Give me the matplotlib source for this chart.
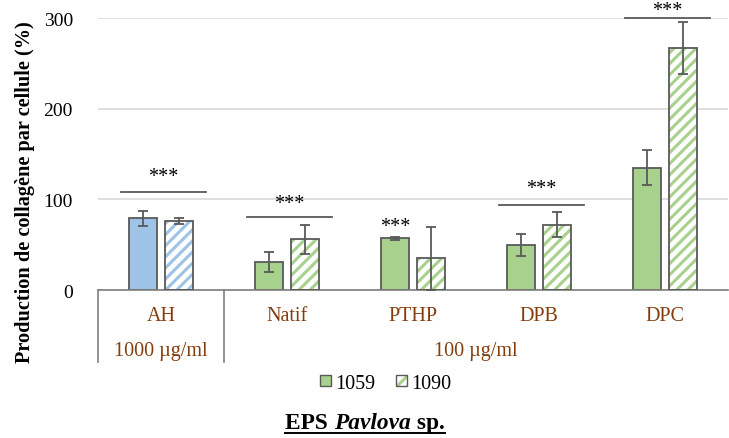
import matplotlib
matplotlib.use("Agg")
import matplotlib.pyplot as plt
import numpy as np
from matplotlib.patches import Patch
from matplotlib.legend_handler import HandlerTuple

plt.rcParams['font.family'] = ['Liberation Serif', 'DejaVu Serif']
plt.rcParams['hatch.linewidth'] = 2.2

categories = ["AH", "Natif", "PTHP", "DPB", "DPC"]
groups = ["1000 µg/ml", "100 µg/ml"]
group_span = [(0, 1), (1, 5)]
series_names = ["1059", "1090"]
vals_1059 = [79, 31, 57, 50, 135]
err_1059 = [8, 11, 1.5, 12, 19]
vals_1090 = [76, 56, 35, 72, 267]
err_1090 = [3, 16, 35, 14, 29]
sig_line_y = [108, 81, None, 94, 300]
sig_star_y = [125, 95, 70, 112, 308]

blue = "#9DC3E6"
green = "#A9D18E"
edge = "#595959"
brown = "#843C0C"
grid_c = "#D9D9D9"
line_c = "#7F7F7F"

fig = plt.figure(figsize=(7.29, 4.39), dpi=100)
ax = fig.add_axes([0.1344, 0.3371, 0.8642, 0.6196])
ax.set_xlim(-0.5, 4.5)
ax.set_ylim(0, 300)
ax.set_yticks([0, 100, 200, 300])
ax.yaxis.grid(True, color=grid_c, lw=1.2)
ax.set_axisbelow(True)
for s in ["left", "right", "top"]:
    ax.spines[s].set_visible(False)
ax.spines["bottom"].set_color(line_c)
ax.spines["bottom"].set_linewidth(1.2)
ax.tick_params(axis='y', length=0, pad=18, labelsize=14)
ax.tick_params(axis='x', length=0)
ax.set_xticks([])

x = np.arange(len(categories))
w = 0.225
off = 0.145
fills = [blue] + [green] * 4
HATCH = "///"

ax.bar(x - off, vals_1059, w, color=fills, edgecolor=edge, linewidth=1.3, zorder=2)
ax.bar(x + off, vals_1090, w, color="white", edgecolor=fills, hatch=HATCH, linewidth=0, zorder=2)
ax.bar(x + off, vals_1090, w, color="none", edgecolor=edge, linewidth=1.3, zorder=3)
ax.errorbar(x - off, vals_1059, yerr=err_1059, fmt="none", ecolor=edge, elinewidth=1.3, capsize=3.5, capthick=1.3, zorder=4)
ax.errorbar(x + off, vals_1090, yerr=err_1090, fmt="none", ecolor=edge, elinewidth=1.3, capsize=3.5, capthick=1.3, zorder=4)

for i in range(len(categories)):
    if sig_line_y[i] is not None:
        ax.plot([x[i] - 0.32, x[i] + 0.36], [sig_line_y[i]] * 2, color=edge, lw=1.3, clip_on=False)
        ax.text(x[i] + 0.02, sig_star_y[i], "***", ha="center", va="center", fontsize=14.5, clip_on=False)
    else:
        ax.text(x[i] - off, sig_star_y[i], "***", ha="center", va="center", fontsize=14.5)

tr = ax.get_xaxis_transform()
for b in [-0.5, 0.5]:
    ax.plot([b, b], [0, -0.265], color=line_c, lw=1.2, transform=tr, clip_on=False)
for i, c in enumerate(categories):
    ax.text(x[i], -0.092, c, transform=tr, ha="center", va="center", color=brown, fontsize=14.5)
for g, (a, b) in zip(groups, group_span):
    ax.text((a + b - 1) / 2, -0.224, g, transform=tr, ha="center", va="center", color=brown, fontsize=14.5)

ax.set_ylabel("Production de collagène par cellule (%)", fontsize=14.6, fontweight="bold")
ax.yaxis.set_label_coords(-0.1, 0.365)

h1 = Patch(facecolor=green, edgecolor=edge, linewidth=1.0)
h2a = Patch(facecolor="white", edgecolor=green, hatch="//", linewidth=0)
h2b = Patch(facecolor="none", edgecolor=edge, linewidth=1.0)
fig.legend([h1, (h2a, h2b)], series_names, loc="center", bbox_to_anchor=(0.529, 0.125), ncol=2,
           frameon=False, fontsize=14.5, handlelength=0.55, handleheight=0.47,
           handletextpad=0.2, columnspacing=1.0,
           handler_map={tuple: HandlerTuple(ndivide=1, pad=0)})

fig.canvas.draw()
r = fig.canvas.get_renderer()
ty = 1 - 424 / 439
parts = [("EPS ", "normal"), ("Pavlova", "italic"), (" sp.", "normal")]
texts = []
for s, st in parts:
    t = fig.text(0, ty, s, fontsize=16.8, fontweight="bold", style=st, va="center", ha="left")
    texts.append(t)
widths = [t.get_window_extent(r).width for t in texts]
total = sum(widths)
cx = 365
xx = cx - total / 2
for t, wd in zip(texts, widths):
    t.set_x(xx / fig.bbox.width)
    xx += wd
bb = texts[0].get_window_extent(r)
uy = (bb.y0 + 1) / fig.bbox.height
fig.add_artist(plt.Line2D([(cx - total / 2) / fig.bbox.width, (cx + total / 2) / fig.bbox.width], [uy, uy],
                          color="black", lw=1.4, transform=fig.transFigure))

fig.savefig("out.png", dpi=100)
